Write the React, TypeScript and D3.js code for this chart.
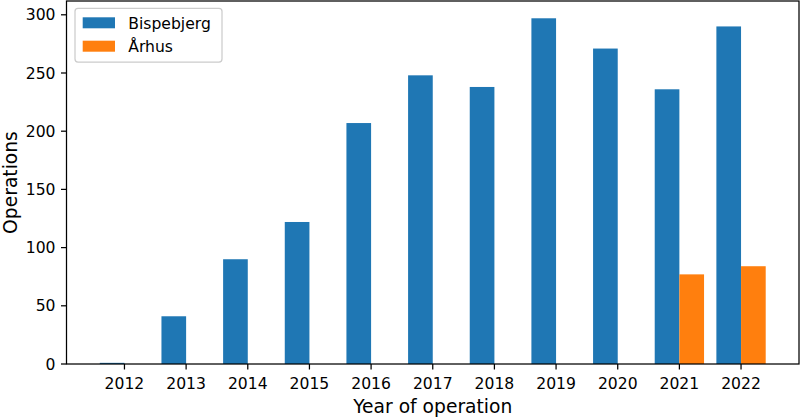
import React from "react";
import * as d3 from "d3";

const years = [2012, 2013, 2014, 2015, 2016, 2017, 2018, 2019, 2020, 2021, 2022];
const bispebjerg = [1, 41, 90, 122, 207, 248, 238, 297, 271, 236, 290];
const aarhus = [0, 0, 0, 0, 0, 0, 0, 0, 0, 77, 84];
const yTicks = [0, 50, 100, 150, 200, 250, 300];
const seriesNames = ["Bispebjerg", "Århus"];
const colors = ["#1f77b4", "#ff7f0e"];

const W = 800;
const H = 418;
const left = 66.5;
const right = 799;
const top = 1;
const bottom = 364;
const font = "DejaVu Sans, sans-serif";

export default function App() {
  const barW = 0.4;
  const x = d3.scaleLinear().domain([2011.6 - 0.54, 2022.4 + 0.54]).range([left, right]);
  const y = d3.scaleLinear().domain([0, 297 * 1.05]).range([bottom, top]);
  const unit = x(1) - x(0);

  return (
    <svg width={W} height={H} style={{ position: "absolute", left: 0, top: 0, background: "#fff" }}>
      <rect x={0} y={0} width={W} height={H} fill="#fff" />
      {years.map((yr, i) => (
        <g key={yr}>
          {bispebjerg[i] > 0 && (
            <rect x={x(yr - barW)} y={y(bispebjerg[i])} width={barW * unit} height={y(0) - y(bispebjerg[i])} fill={colors[0]} />
          )}
          {aarhus[i] > 0 && (
            <rect x={x(yr)} y={y(aarhus[i])} width={barW * unit} height={y(0) - y(aarhus[i])} fill={colors[1]} />
          )}
        </g>
      ))}
      {/* spines */}
      <rect x={left} y={top} width={right - left} height={bottom - top} fill="none" stroke="#000" strokeWidth={1.25} />
      {/* x ticks */}
      {years.map((yr) => (
        <g key={"xt" + yr}>
          <line x1={x(yr)} x2={x(yr)} y1={bottom} y2={bottom + 5.5} stroke="#000" strokeWidth={1.25} />
          <text x={x(yr)} y={388.5} textAnchor="middle" fontFamily={font} fontSize={15.6} fill="#000">{yr}</text>
        </g>
      ))}
      {/* y ticks */}
      {yTicks.map((t) => (
        <g key={"yt" + t}>
          <line x1={left - 5.5} x2={left} y1={y(t)} y2={y(t)} stroke="#000" strokeWidth={1.25} />
          <text x={left - 11} y={y(t)} dy="0.36em" textAnchor="end" fontFamily={font} fontSize={15.6} fill="#000">{t}</text>
        </g>
      ))}
      <text x={(left + right) / 2} y={413} textAnchor="middle" fontFamily={font} fontSize={18.7} fill="#000">Year of operation</text>
      <text transform={`translate(17,${(top + bottom) / 2}) rotate(-90)`} textAnchor="middle" fontFamily={font} fontSize={18.7} fill="#000">Operations</text>
      {/* legend */}
      <rect x={75} y={8.3} width={147} height={53.7} rx={3} fill="#fff" fillOpacity={0.8} stroke="#ccc" strokeWidth={1.25} />
      {seriesNames.map((n, i) => (
        <g key={n}>
          <rect x={82.7} y={17.3 + i * 23.4} width={32.3} height={11} fill={colors[i]} />
          <text x={128.3} y={28.5 + i * 23.4} fontFamily={font} fontSize={15.6} fill="#000">{n}</text>
        </g>
      ))}
    </svg>
  );
}
